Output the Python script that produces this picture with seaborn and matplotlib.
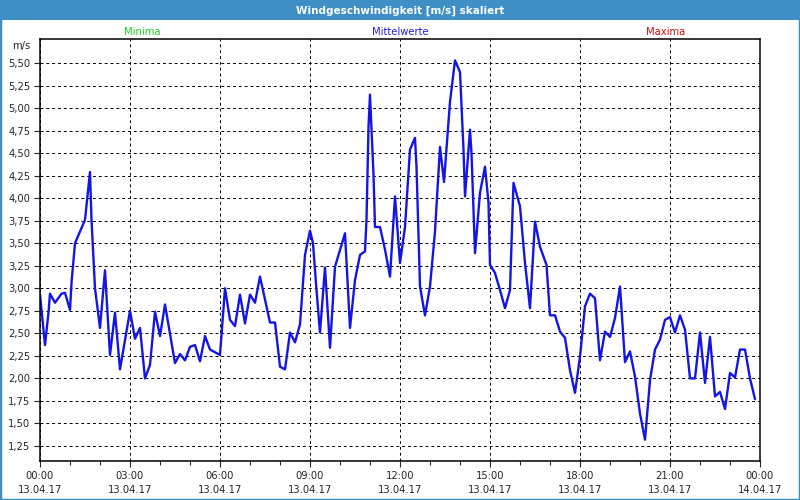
import matplotlib
matplotlib.use('Agg')
import matplotlib.pyplot as plt
import numpy as np
import pandas as pd
import seaborn as sns
from matplotlib.patches import Rectangle

sns.set_style('white')
plt.rcParams['font.family'] = ['DejaVu Sans']

# minutes since 13.04.17 00:00
minutes = [
    0, 10, 17, 20, 30, 43, 50, 60, 63, 70, 90, 100, 103, 110, 120, 130, 140,
    150, 160, 180, 190, 200, 210, 220, 230, 240, 250, 270, 280, 290, 300, 310,
    320, 330, 340, 360, 370, 380, 390, 400, 410, 420, 430, 440, 460, 470, 480,
    490, 500, 510, 520, 530, 540, 546, 553, 560, 570, 580, 590, 610, 620, 630,
    640, 650, 653, 657, 660, 667, 670, 680, 690, 700, 710, 720, 730, 740, 750,
    753, 760, 770, 780, 790, 800, 808, 820, 830, 840, 847, 850, 860, 863, 870,
    880, 890, 897, 900, 910, 920, 930, 940, 947, 960, 970, 980, 990, 1000,
    1013, 1020, 1030, 1040, 1050, 1060, 1070, 1080, 1090, 1100, 1110, 1120,
    1130, 1140, 1150, 1160, 1170, 1180, 1190, 1200, 1210, 1220, 1230, 1240,
    1250, 1260, 1270, 1280, 1290, 1300, 1310, 1320, 1330, 1340, 1350, 1360,
    1370, 1380, 1390, 1400, 1410, 1420, 1430,
]
wind = [
    2.93, 2.37, 2.73, 2.94, 2.84, 2.94, 2.95, 2.76, 3.06, 3.50, 3.76, 4.29,
    3.76, 3.00, 2.56, 3.20, 2.26, 2.73, 2.10, 2.75, 2.44, 2.56, 2.00, 2.15,
    2.74, 2.47, 2.82, 2.17, 2.27, 2.20, 2.35, 2.37, 2.19, 2.47, 2.32, 2.26,
    3.00, 2.65, 2.58, 2.93, 2.61, 2.93, 2.84, 3.13, 2.62, 2.62, 2.13, 2.10,
    2.51, 2.40, 2.60, 3.37, 3.64, 3.50, 2.98, 2.51, 3.23, 2.34, 3.24, 3.61,
    2.56, 3.09, 3.37, 3.41, 3.76, 4.79, 5.15, 4.26, 3.68, 3.68, 3.43, 3.13,
    4.02, 3.28, 3.68, 4.54, 4.67, 4.35, 3.02, 2.70, 3.02, 3.63, 4.57, 4.18,
    5.07, 5.53, 5.40, 4.54, 4.02, 4.76, 4.50, 3.39, 4.06, 4.35, 3.95, 3.26,
    3.17, 2.98, 2.78, 2.98, 4.17, 3.91, 3.28, 2.78, 3.74, 3.46, 3.26, 2.70,
    2.70, 2.52, 2.45, 2.09, 1.84, 2.24, 2.80, 2.94, 2.89, 2.20, 2.52, 2.46,
    2.67, 3.02, 2.18, 2.30, 2.02, 1.61, 1.32, 1.98, 2.32, 2.43, 2.65, 2.68,
    2.51, 2.70, 2.54, 2.00, 2.00, 2.51, 1.95, 2.46, 1.80, 1.85, 1.66, 2.06,
    2.01, 2.32, 2.32, 2.00, 1.77,
]

y_ticks = [1.25, 1.50, 1.75, 2.00, 2.25, 2.50, 2.75, 3.00, 3.25, 3.50, 3.75,
           4.00, 4.25, 4.50, 4.75, 5.00, 5.25, 5.50]
x_ticks = [0, 180, 360, 540, 720, 900, 1080, 1260, 1440]
x_labels = ['00:00\n13.04.17', '03:00\n13.04.17', '06:00\n13.04.17',
            '09:00\n13.04.17', '12:00\n13.04.17', '15:00\n13.04.17',
            '18:00\n13.04.17', '21:00\n13.04.17', '00:00\n14.04.17']

df = pd.DataFrame({'min': minutes, 'wind': wind})

fig = plt.figure(figsize=(8, 5), dpi=100)
frame_blue = '#3d8fc5'

# window frame + title bar
fig.patches.append(Rectangle((0, 0), 1, 1, transform=fig.transFigure,
                             fill=False, edgecolor=frame_blue, linewidth=2.5))
fig.patches.append(Rectangle((0, 1 - 20 / 500), 1, 20 / 500,
                             transform=fig.transFigure, facecolor=frame_blue,
                             edgecolor='none'))
fig.text(0.5, 1 - 10.5 / 500, 'Windgeschwindigkeit [m/s] skaliert',
         color='white', fontsize=7.5, fontweight='bold', ha='center', va='center')

ax = fig.add_axes([40 / 800, 1 - 461 / 500, 720 / 800, 422 / 500])
sns.lineplot(data=df, x='min', y='wind', ax=ax, color='#1414e6', linewidth=1.7)

ax.set_xlim(0, 1440)
ax.set_ylim(1.083, 5.767)
ax.set_xticks(x_ticks)
ax.set_xticklabels(x_labels, fontsize=7.2, linespacing=1.55)
ax.set_xticks(np.arange(0, 1441, 60), minor=True)
ax.set_yticks(y_ticks)
ax.set_yticklabels([f'{v:.2f}'.replace('.', ',') for v in y_ticks], fontsize=7.2)
ax.tick_params(axis='x', which='major', length=4, width=0.8, pad=3, bottom=True)
ax.tick_params(axis='x', which='minor', length=3, width=0.8, bottom=True)
ax.tick_params(axis='y', which='major', length=4, width=0.8, pad=3, left=True)
ax.set_xlabel('')
ax.set_ylabel('')
ax.grid(True, which='major', color='black', linestyle=(0, (3, 3)), linewidth=0.7)
for s in ax.spines.values():
    s.set_color('black')
    s.set_linewidth(1.1)

fig.text(30 / 800, 1 - 46 / 500, 'm/s', fontsize=7.2, ha='right', va='center')
fig.text(142 / 800, 1 - 32 / 500, 'Minima', color='#22cc22', fontsize=7.2,
         ha='center', va='center')
fig.text(400 / 800, 1 - 32 / 500, 'Mittelwerte', color='#2020e0', fontsize=7.2,
         ha='center', va='center')
fig.text(666 / 800, 1 - 32 / 500, 'Maxima', color='#cc1111', fontsize=7.2,
         ha='center', va='center')

fig.savefig('out.png', dpi=100)
